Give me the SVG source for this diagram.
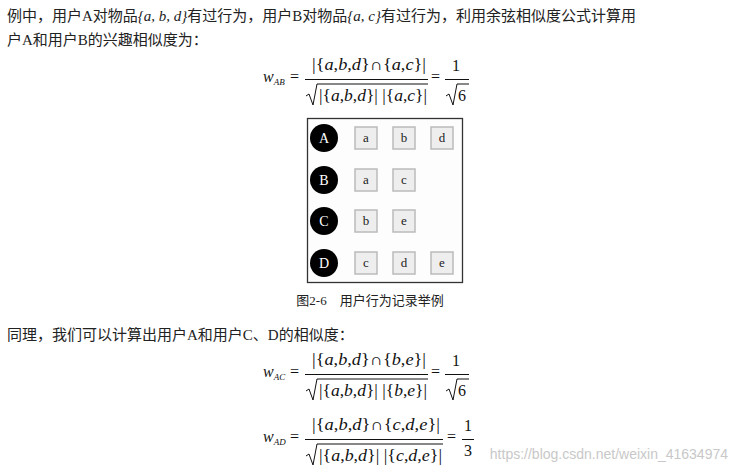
<svg xmlns="http://www.w3.org/2000/svg" width="740" height="473" viewBox="0 0 740 473">
<style>
.t{font-family:"Liberation Serif","Noto Sans CJK SC",serif;font-size:15px;fill:#222}
.m{font-family:"Liberation Serif",serif;font-size:16px;fill:#111}
.i{font-style:italic}
.s{font-size:9px;font-style:italic}
.bar{stroke:#111;stroke-width:1;fill:none}
.sq{fill:#eee;stroke:#bbb;stroke-width:1.5}
.c{fill:#000}
.cl{font-family:"Liberation Serif",serif;font-size:14px;fill:#fff;text-anchor:middle}
.sl{font-family:"Liberation Serif",serif;font-size:13px;fill:#222;text-anchor:middle}
</style>
<rect width="740" height="473" fill="#fff"/>
<text class="t" x="7" y="21">例中，用户A对物品<tspan class="i">{a, b, d}</tspan>有过行为，用户B对物品<tspan class="i">{a, c}</tspan>有过行为，利用余弦相似度公式计算用</text>
<text class="t" x="7" y="45">户A和用户B的兴趣相似度为：</text>

<g id="formula-ab">
<text class="m i" x="263" y="82">w<tspan class="s" dy="3">AB</tspan></text>
<text class="m" x="290" y="82">=</text>
<text class="m" x="312" y="70" textLength="114" lengthAdjust="spacingAndGlyphs">|{<tspan class="i">a</tspan>,<tspan class="i">b</tspan>,<tspan class="i">d</tspan>}∩{<tspan class="i">a</tspan>,<tspan class="i">c</tspan>}|</text>
<line class="bar" x1="305" y1="79.5" x2="428" y2="79.5"/>
<path class="bar" d="M306 96 L309 94 L313 105 L317 84 L428 84" stroke-width="1.3"/>
<text class="m" x="319" y="101" textLength="108" lengthAdjust="spacingAndGlyphs">|{<tspan class="i">a</tspan>,<tspan class="i">b</tspan>,<tspan class="i">d</tspan>}| |{<tspan class="i">a</tspan>,<tspan class="i">c</tspan>}|</text>
<text class="m" x="431" y="82">=</text>
<text class="m" x="456" y="71" text-anchor="middle">1</text>
<line class="bar" x1="445" y1="79.5" x2="469" y2="79.5"/>
<path class="bar" d="M446 96 L449 94 L453 105 L457 84 L469 84" stroke-width="1.3"/>
<text class="m" x="458" y="101">6</text>
</g>

<rect x="307.5" y="118.5" width="155" height="164" fill="#fdfdfd" stroke="#333" stroke-width="1.3"/>
<g id="node-A"><circle class="c" cx="324" cy="138" r="14"/><text class="cl" x="324" y="143">A</text></g>
<g id="node-B"><circle class="c" cx="324" cy="180" r="14"/><text class="cl" x="324" y="185">B</text></g>
<g id="node-C"><circle class="c" cx="324" cy="221" r="14"/><text class="cl" x="324" y="226">C</text></g>
<g id="node-D"><circle class="c" cx="324" cy="263" r="14"/><text class="cl" x="324" y="268">D</text></g>
<g id="items">
<rect class="sq" x="355" y="127" width="22" height="22"/><text class="sl" x="366" y="142">a</text>
<rect class="sq" x="393" y="127" width="22" height="22"/><text class="sl" x="404" y="142">b</text>
<rect class="sq" x="431" y="127" width="22" height="22"/><text class="sl" x="442" y="142">d</text>
<rect class="sq" x="355" y="169" width="22" height="22"/><text class="sl" x="366" y="184">a</text>
<rect class="sq" x="393" y="169" width="22" height="22"/><text class="sl" x="404" y="184">c</text>
<rect class="sq" x="355" y="210" width="22" height="22"/><text class="sl" x="366" y="225">b</text>
<rect class="sq" x="393" y="210" width="22" height="22"/><text class="sl" x="404" y="225">e</text>
<rect class="sq" x="355" y="252" width="22" height="22"/><text class="sl" x="366" y="267">c</text>
<rect class="sq" x="393" y="252" width="22" height="22"/><text class="sl" x="404" y="267">d</text>
<rect class="sq" x="431" y="252" width="22" height="22"/><text class="sl" x="442" y="267">e</text>
</g>
<text class="t" x="370" y="305" text-anchor="middle" style="font-size:13px">图2-6　用户行为记录举例</text>
<text class="t" x="7" y="340">同理，我们可以计算出用户A和用户C、D的相似度：</text>

<g id="formula-ac">
<text class="m i" x="263" y="377">w<tspan class="s" dy="3">AC</tspan></text>
<text class="m" x="290" y="377">=</text>
<text class="m" x="312" y="365" textLength="114" lengthAdjust="spacingAndGlyphs">|{<tspan class="i">a</tspan>,<tspan class="i">b</tspan>,<tspan class="i">d</tspan>}∩{<tspan class="i">b</tspan>,<tspan class="i">e</tspan>}|</text>
<line class="bar" x1="305" y1="374.5" x2="428" y2="374.5"/>
<path class="bar" d="M306 391 L309 389 L313 400 L317 379 L428 379" stroke-width="1.3"/>
<text class="m" x="319" y="396" textLength="108" lengthAdjust="spacingAndGlyphs">|{<tspan class="i">a</tspan>,<tspan class="i">b</tspan>,<tspan class="i">d</tspan>}| |{<tspan class="i">b</tspan>,<tspan class="i">e</tspan>}|</text>
<text class="m" x="431" y="377">=</text>
<text class="m" x="456" y="366" text-anchor="middle">1</text>
<line class="bar" x1="445" y1="374.5" x2="469" y2="374.5"/>
<path class="bar" d="M446 391 L449 389 L453 400 L457 379 L469 379" stroke-width="1.3"/>
<text class="m" x="458" y="396">6</text>
</g>

<g id="formula-ad">
<text class="m i" x="263" y="442">w<tspan class="s" dy="3">AD</tspan></text>
<text class="m" x="290" y="442">=</text>
<text class="m" x="312" y="430" textLength="128" lengthAdjust="spacingAndGlyphs">|{<tspan class="i">a</tspan>,<tspan class="i">b</tspan>,<tspan class="i">d</tspan>}∩{<tspan class="i">c</tspan>,<tspan class="i">d</tspan>,<tspan class="i">e</tspan>}|</text>
<line class="bar" x1="305" y1="439.5" x2="443" y2="439.5"/>
<path class="bar" d="M306 456 L309 454 L313 465 L317 444 L443 444" stroke-width="1.3"/>
<text class="m" x="319" y="461" textLength="123" lengthAdjust="spacingAndGlyphs">|{<tspan class="i">a</tspan>,<tspan class="i">b</tspan>,<tspan class="i">d</tspan>}| |{<tspan class="i">c</tspan>,<tspan class="i">d</tspan>,<tspan class="i">e</tspan>}|</text>
<text class="m" x="447" y="442">=</text>
<text class="m" x="468" y="431" text-anchor="middle">1</text>
<line class="bar" x1="462" y1="439.5" x2="474" y2="439.5"/>
<text class="m" x="468" y="456" text-anchor="middle">3</text>
</g>
<text x="728" y="459" text-anchor="end" style="font-family:'Liberation Sans',sans-serif;font-size:14px;fill:#c8c8c8">https://blog.csdn.net/weixin_41634974</text>
</svg>
